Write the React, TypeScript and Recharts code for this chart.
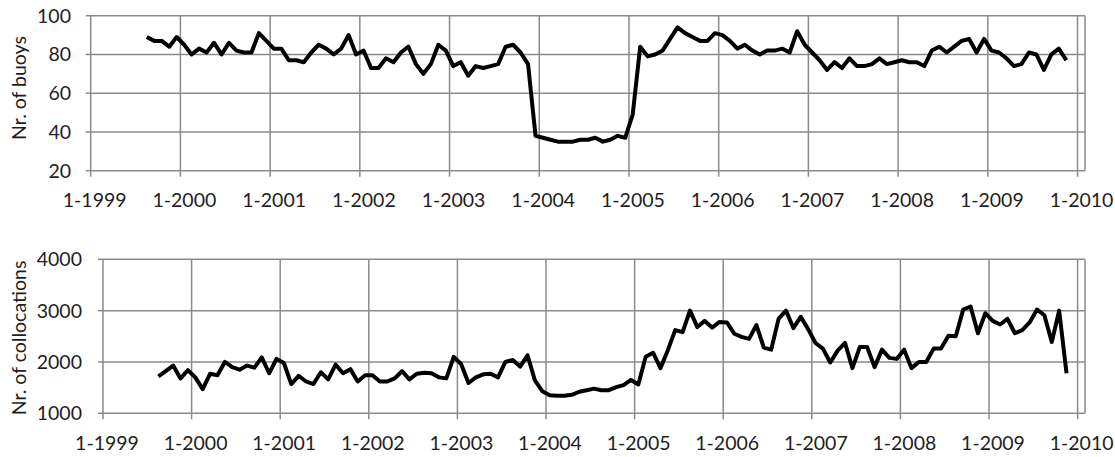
import React from 'react';
import { LineChart, Line, XAxis, YAxis, CartesianGrid, Label } from 'recharts';

// Monthly values, first point = Aug 1999, last point = Nov 2009
const START_MONTH = 7; // months after Jan 1999
const buoys = [
  89, 87, 87, 84, 89,
  85, 80, 83, 81, 86, 80, 86, 82, 81, 81, 91, 87,
  83, 83, 77, 77, 76, 81, 85, 83, 80, 83, 90, 80,
  82, 73, 73, 78, 76, 81, 84, 75, 70, 75, 85, 82,
  74, 76, 69, 74, 73, 74, 75, 84, 85, 81, 75, 38,
  37, 36, 35, 35, 35, 36, 36, 37, 35, 36, 38, 37,
  49, 84, 79, 80, 82, 88, 94, 91, 89, 87, 87, 91,
  90, 87, 83, 85, 82, 80, 82, 82, 83, 81, 92, 85,
  81, 77, 72, 76, 73, 78, 74, 74, 75, 78, 75, 76,
  77, 76, 76, 74, 82, 84, 81, 84, 87, 88, 81, 88,
  82, 81, 78, 74, 75, 81, 80, 72, 80, 83, 77,
];
const collocations = [
  1720, 1820, 1930, 1680, 1840,
  1700, 1470, 1770, 1740, 2000, 1900, 1850, 1930, 1890, 2090, 1780, 2060,
  1980, 1570, 1730, 1620, 1570, 1800, 1660, 1950, 1780, 1860, 1620, 1740,
  1740, 1620, 1620, 1680, 1820, 1660, 1770, 1790, 1780, 1700, 1680, 2100,
  1960, 1590, 1700, 1760, 1770, 1700, 2000, 2040, 1910, 2130, 1640, 1430,
  1350, 1340, 1340, 1360, 1420, 1450, 1480, 1450, 1450, 1510, 1550, 1650,
  1560, 2100, 2180, 1880, 2230, 2620, 2580, 3000, 2680, 2800, 2670, 2780,
  2770, 2550, 2490, 2450, 2720, 2280, 2240, 2840, 3000, 2660, 2880, 2640,
  2370, 2260, 1990, 2220, 2370, 1880, 2290, 2290, 1900, 2240, 2080, 2060,
  2240, 1880, 2000, 2000, 2260, 2260, 2510, 2500, 3020, 3080, 2560, 2950,
  2800, 2730, 2840, 2560, 2620, 2770, 3020, 2910, 2390, 3000, 1780,
];
const yearLabels = ['1-1999', '1-2000', '1-2001', '1-2002', '1-2003', '1-2004', '1-2005', '1-2006', '1-2007', '1-2008', '1-2009', '1-2010'];
const yearTicks = yearLabels.map((_, i) => i * 12);
const buoyTicks = [20, 40, 60, 80, 100];
const collocTicks = [1000, 2000, 3000, 4000];

const data = buoys.map((b, i) => ({ x: START_MONTH + i + 0.5, buoys: b, colloc: collocations[i] }));

const GRID = '#8a8a8a';
const TEXT = '#1e1e1e';
const FONT = 'Lato, "Open Sans", sans-serif';
const FS = 19.5;

const fmtYear = (v: number) => yearLabels[Math.round(v / 12)] ?? '';

function Title({ x, y, text }: { x: number; y: number; text: string }) {
  return (
    <text x={x} y={y} transform={`rotate(-90 ${x} ${y})`} textAnchor="middle" dominantBaseline="central"
      fill={TEXT} fontFamily={FONT} fontSize={FS}>{text}</text>
  );
}

export default function App() {
  return (
    <div style={{ position: 'absolute', left: 0, top: 0, width: 1115, height: 457, background: '#fff' }}>
      <div style={{ position: 'absolute', left: 0, top: 0 }}>
        <LineChart width={1115} height={230} data={data} margin={{ top: 15.7, right: 30, left: 0, bottom: 19.3 }}>
          <CartesianGrid stroke={GRID} strokeWidth={1.5} horizontalValues={buoyTicks} />
          <XAxis dataKey="x" type="number" domain={[0, 133]} ticks={yearTicks} tickFormatter={fmtYear}
            allowDataOverflow height={40} axisLine={false} tickLine={{ stroke: GRID, strokeWidth: 1.5 }} tickSize={6} tickMargin={16.5}
            tick={{ fill: TEXT, fontFamily: FONT, fontSize: FS, dx: 4 }} interval={0} />
          <YAxis type="number" domain={[20, 100]} ticks={buoyTicks} width={90.7} axisLine={false}
            tickLine={{ stroke: GRID, strokeWidth: 1.5 }} tickSize={5} tickMargin={14.7}
            tick={{ fill: TEXT, fontFamily: FONT, fontSize: FS }} interval={0}
            label={<Label content={() => <Title x={18} y={88} text="Nr. of buoys" />} />} />
          <Line type="linear" dataKey="buoys" stroke="#000" strokeWidth={4} dot={false} strokeLinejoin="round" isAnimationActive={false} />
        </LineChart>
      </div>
      <div style={{ position: 'absolute', left: 0, top: 230 }}>
        <LineChart width={1115} height={227} data={data} margin={{ top: 29.3, right: 30, left: 0, bottom: 3.7 }}>
          <CartesianGrid stroke={GRID} strokeWidth={1.5} horizontalValues={collocTicks} />
          <XAxis dataKey="x" type="number" domain={[0, 133]} ticks={yearTicks} tickFormatter={fmtYear}
            allowDataOverflow height={40} axisLine={false} tickLine={{ stroke: GRID, strokeWidth: 1.5 }} tickSize={6} tickMargin={17}
            tick={{ fill: TEXT, fontFamily: FONT, fontSize: FS, dx: 4 }} interval={0} />
          <YAxis type="number" domain={[1000, 4000]} ticks={collocTicks} width={103} axisLine={false}
            tickLine={{ stroke: GRID, strokeWidth: 1.5 }} tickSize={5} tickMargin={16}
            tick={{ fill: TEXT, fontFamily: FONT, fontSize: FS }} interval={0}
            label={<Label content={() => <Title x={18} y={108} text="Nr. of collocations" />} />} />
          <Line type="linear" dataKey="colloc" stroke="#000" strokeWidth={4} dot={false} strokeLinejoin="round" isAnimationActive={false} />
        </LineChart>
      </div>
    </div>
  );
}
